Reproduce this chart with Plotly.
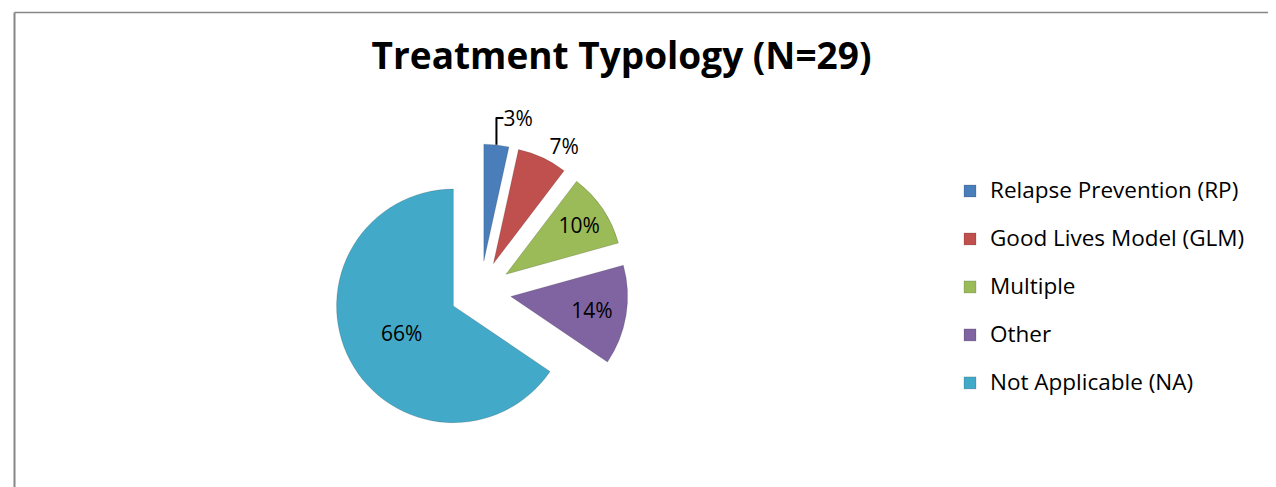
import plotly.graph_objects as go

labels = ["Relapse Prevention (RP)", "Good Lives Model (GLM)", "Multiple", "Other", "Not Applicable (NA)"]
counts = [1, 2, 3, 4, 19]
colors = ["#4A7EBB", "#C0504D", "#9BBB59", "#8064A2", "#43A9C8"]
text_positions = ["outside", "outside", "inside", "inside", "inside"]
title_text = "Treatment Typology (N=29)"

W, H = 1276, 487
FONT = "Open Sans"

legend_labels = [f"<span style='font-size:22.5px;baseline-shift:6px'>{l}</span>" for l in labels]

fig = go.Figure(go.Pie(
    labels=legend_labels,
    values=counts,
    sort=False,
    direction="clockwise",
    rotation=0,
    pull=[0.263] * len(counts),
    marker=dict(colors=colors, line=dict(color="rgba(0,0,0,0.15)", width=1)),
    textinfo="percent",
    texttemplate="%{percent:.0%}",
    textposition=text_positions,
    insidetextorientation="horizontal",
    textfont=dict(family=FONT, size=21, color="black"),
    outsidetextfont=dict(family=FONT, size=21, color="black"),
    insidetextfont=dict(family=FONT, size=21, color="black"),
    domain=dict(x=[325 / W, 620 / W], y=[1 - 431 / H, 1 - 136 / H]),
    showlegend=True,
))

fig.update_layout(
    width=W, height=H,
    margin=dict(l=0, r=0, t=0, b=0),
    paper_bgcolor="white",
    plot_bgcolor="white",
    font=dict(family=FONT, color="black"),
    title=dict(text=f"<b>{title_text}</b>", x=613.5 / W, xanchor="center",
               y=1 - 48 / H, yanchor="middle", yref="container",
               font=dict(family=FONT, size=37, color="black")),
    legend=dict(x=942 / W, xanchor="left", y=1 - 154 / H, yanchor="top",
                font=dict(family=FONT, size=34.6, color="black"),
                bgcolor="rgba(0,0,0,0)", itemclick=False),
    shapes=[
        dict(type="line", xref="paper", yref="paper", x0=6.5 / W, x1=6.5 / W, y0=0, y1=1 - 4.5 / H,
             line=dict(color="#868686", width=2)),
        dict(type="line", xref="paper", yref="paper", x0=6.5 / W, x1=1, y0=1 - 4.5 / H, y1=1 - 4.5 / H,
             line=dict(color="#868686", width=1.5)),
    ],
)

fig.write_html("out.html")
